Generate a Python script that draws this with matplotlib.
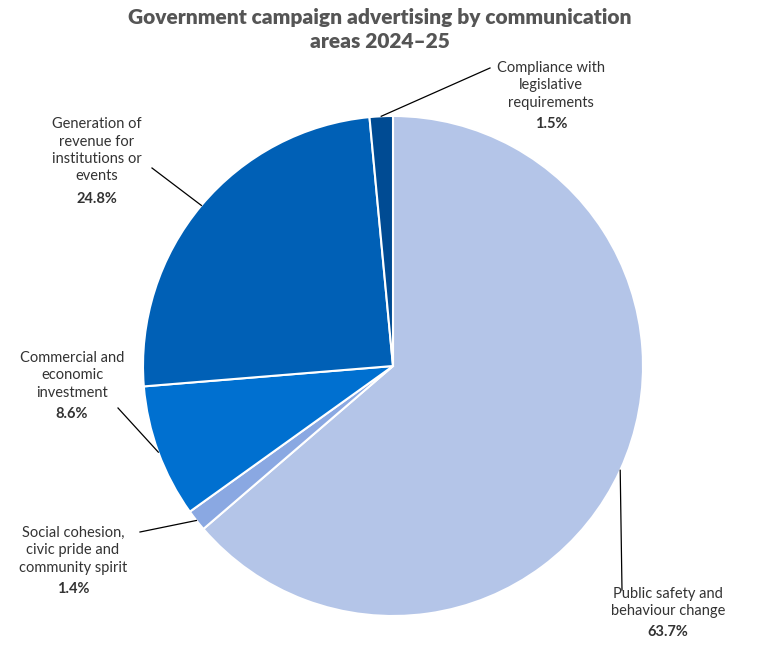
import matplotlib
matplotlib.use("Agg")
import matplotlib.pyplot as plt
import numpy as np

plt.rcParams['font.family'] = ['Lato', 'DejaVu Sans']

labels = ["Public safety and\nbehaviour change", "Social cohesion,\ncivic pride and\ncommunity spirit",
          "Commercial and\neconomic\ninvestment", "Generation of\nrevenue for\ninstitutions or\nevents",
          "Compliance with\nlegislative\nrequirements"]
values = [63.7, 1.4, 8.6, 24.8, 1.5]
colors = ["#b4c5e8", "#8aa8e2", "#0070d0", "#0060b6", "#004b93"]

W, H = 768, 661
fig = plt.figure(figsize=(W/100, H/100), dpi=100)
ax = fig.add_axes([(393-250)/W, (H-366-250)/H, 500/W, 500/H])
ax.pie(values, colors=colors, startangle=90, counterclock=False,
       wedgeprops=dict(edgecolor="white", linewidth=1.5))
ax.set_xlim(-1, 1); ax.set_ylim(-1, 1); ax.set_aspect('equal')

fig.text(0.5-0.005, 1-8/H, "Government campaign advertising by communication\nareas 2024–25",
         ha="center", va="top", fontsize=15, fontweight="heavy", color="#555555", linespacing=1.3)

text_pos = [(668, 612), (73, 560), (72, 385), (97, 160), (551, 95)]
line_end = [(622, 590), (140, 532), (118, 408), (152, 168), (490, 68)]
lineh = 19.5

cum = 0
for v, lab, (tx, ty), (lx, ly) in zip(values, labels, text_pos, line_end):
    ang = np.deg2rad(90 - 360*(cum + v/2)/100)
    cum += v
    px = 393 + 250*np.cos(ang); py = 366 - 250*np.sin(ang)
    fig.add_artist(plt.Line2D([px/W, lx/W], [1-py/H, 1-ly/H], transform=fig.transFigure,
                              color="black", lw=0.9))
    n = lab.count("\n") + 1
    fig.text(tx/W, 1-(ty - lineh/2)/H, lab, ha="center", va="center", fontsize=10.5,
             color="#333333", linespacing=1.3)
    fig.text(tx/W, 1-(ty + n*lineh/2)/H, f"{v}%", ha="center", va="center", fontsize=10.5,
             fontweight="bold", color="#333333")

fig.savefig("out.png", dpi=100, facecolor="white")
